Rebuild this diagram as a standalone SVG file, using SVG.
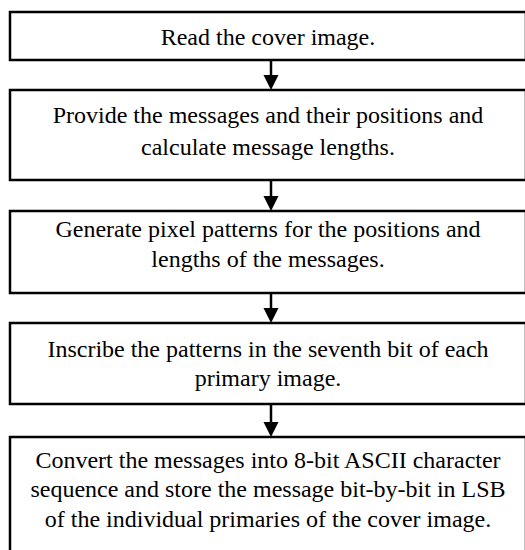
<svg xmlns="http://www.w3.org/2000/svg" width="525" height="550" viewBox="0 0 525 550">
  <style>
    .box { fill: #ffffff; stroke: #000000; stroke-width: 2.5; }
    .label { font-family: "Liberation Serif", "Times New Roman", serif; font-size: 24px; fill: #000000; text-anchor: middle; }
    .conn { stroke: #000000; stroke-width: 2.5; fill: none; }
    .head { fill: #000000; }
  </style>
  <rect width="525" height="550" fill="#ffffff"/>

  <g id="step1">
    <rect class="box" x="10" y="12" width="516" height="48"/>
    <text class="label" x="268" y="45">Read the cover image.</text>
  </g>

  <g id="step2">
    <rect class="box" x="10" y="90" width="516" height="90"/>
    <text class="label" x="268" y="123">Provide the messages and their positions and</text>
    <text class="label" x="268" y="154.5">calculate message lengths.</text>
  </g>

  <g id="step3">
    <rect class="box" x="10" y="211" width="516" height="82"/>
    <text class="label" x="268" y="237">Generate pixel patterns for the positions and</text>
    <text class="label" x="268" y="267">lengths of the messages.</text>
  </g>

  <g id="step4">
    <rect class="box" x="10" y="323" width="516" height="81"/>
    <text class="label" x="268" y="357">Inscribe the patterns in the seventh bit of each</text>
    <text class="label" x="268" y="386">primary image.</text>
  </g>

  <g id="step5">
    <rect class="box" x="10" y="437" width="516" height="120"/>
    <text class="label" x="268" y="468">Convert the messages into 8-bit ASCII character</text>
    <text class="label" x="268" y="497">sequence and store the message bit-by-bit in LSB</text>
    <text class="label" x="268" y="527">of the individual primaries of the cover image.</text>
  </g>

  <g id="connectors">
    <line class="conn" x1="271" y1="60" x2="271" y2="76"/>
    <polygon class="head" points="263.5,75 278.5,75 271,90"/>
    <line class="conn" x1="271" y1="180" x2="271" y2="197"/>
    <polygon class="head" points="263.5,196 278.5,196 271,211"/>
    <line class="conn" x1="271" y1="293" x2="271" y2="309"/>
    <polygon class="head" points="263.5,308 278.5,308 271,323"/>
    <line class="conn" x1="271" y1="404" x2="271" y2="423"/>
    <polygon class="head" points="263.5,422 278.5,422 271,437"/>
  </g>
</svg>
